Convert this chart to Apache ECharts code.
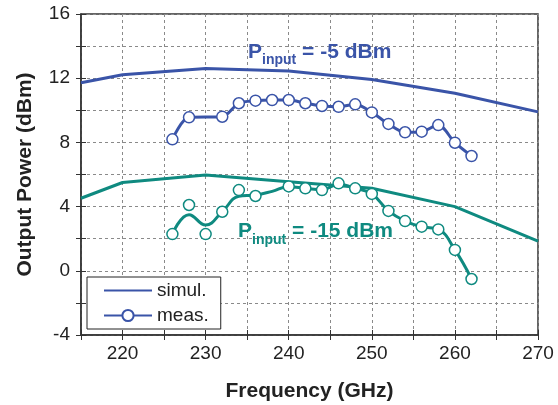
<!DOCTYPE html>
<html>
<head>
<meta charset="utf-8">
<script src="https://cdn.jsdelivr.net/npm/echarts@6/dist/echarts.min.js"></script>
<style>
  html, body { margin: 0; padding: 0; background: #fff; }
  #chart { width: 558px; height: 405px; }
</style>
</head>
<body>
<div id="chart"></div>
<script>
// Simulated output power (dBm) vs frequency (GHz)
const freqSim = [215, 220, 230, 240, 250, 260, 270];
const simHigh = [11.72, 12.22, 12.6, 12.45, 11.92, 11.06, 9.9];   // Pin = -5 dBm
const simLow  = [4.52, 5.5, 5.97, 5.55, 5.14, 4.0, 1.85];         // Pin = -15 dBm

// Measured output power (dBm); null where no point was taken
const freqMeas = [226, 228, 230, 232, 234, 236, 238, 240, 242, 244, 246, 248, 250, 252, 254, 256, 258, 260, 262];
const measHigh = [8.19, 9.56, null, 9.6, 10.44, 10.6, 10.64, 10.64, 10.44, 10.27, 10.22, 10.37, 9.87, 9.15, 8.63, 8.67, 9.08, 7.98, 7.15];
const measLow  = [2.29, 4.1, 2.29, 3.68, 5.03, 4.66, null, 5.26, 5.14, 5.03, 5.45, 5.14, 4.79, 3.73, 3.10, 2.75, 2.58, 1.30, -0.51];
// Smoothed trend drawn through the -15 dBm measurement
const trendLow = [2.29, 3.5, 2.85, 3.68, 4.65, 4.72, 4.95, 5.24, 5.14, 5.05, 5.4, 5.14, 4.79, 3.73, 3.10, 2.75, 2.58, 1.30, -0.51];

const xTicks = { min: 215, max: 270, step: 5, labelStep: 10 };
const yTicks = { min: -4, max: 16, step: 2, labelStep: 4 };

const BLUE = '#3a54a8';
const TEAL = '#0f8a80';
const AXIS = '#333333';

function pairs(xs, ys) {
  const out = [];
  xs.forEach((x, i) => { if (ys[i] !== null) out.push([x, ys[i]]); });
  return out;
}

const chart = echarts.init(document.getElementById('chart'), null, { renderer: 'canvas' });

const baseX = {
  type: 'value', min: xTicks.min, max: xTicks.max, interval: xTicks.step,
  gridIndex: 0
};
const baseY = {
  type: 'value', min: yTicks.min, max: yTicks.max, interval: yTicks.step,
  gridIndex: 0
};

const option = {
  animation: false,
  backgroundColor: '#ffffff',
  textStyle: { fontFamily: 'Liberation Sans, Arial, sans-serif' },
  grid: {
    left: 81, top: 14, right: 20, bottom: 70,
    containLabel: false, outerBoundsMode: 'none',
    show: true, borderColor: AXIS, borderWidth: 1.5, backgroundColor: 'transparent'
  },
  xAxis: [
    Object.assign({}, baseX, {
      position: 'bottom',
      name: 'Frequency (GHz)', nameLocation: 'middle', nameGap: 46,
      nameTextStyle: { fontSize: 21, fontWeight: 'bold', color: '#222' },
      axisLine: { show: true, onZero: false, lineStyle: { color: AXIS, width: 1.5 } },
      axisTick: { show: true, length: 5, lineStyle: { color: AXIS, width: 1 } },
      axisLabel: {
        margin: 9, fontSize: 19, color: '#222',
        formatter: v => (v % xTicks.labelStep === 0 ? String(v) : '')
      },
      splitLine: { show: true, lineStyle: { color: '#8a8a8a', width: 1, type: [3, 3] } }
    }),
    Object.assign({}, baseX, {
      position: 'bottom',
      axisLine: { show: false, onZero: false },
      axisTick: { show: true, inside: true, length: 5, lineStyle: { color: AXIS, width: 1 } },
      axisLabel: { show: false },
      splitLine: { show: false }
    })
  ],
  yAxis: [
    Object.assign({}, baseY, {
      position: 'left',
      name: 'Output Power (dBm)', nameLocation: 'middle', nameGap: 45,
      nameTextStyle: { fontSize: 21, fontWeight: 'bold', color: '#222' },
      axisLine: { show: true, onZero: false, lineStyle: { color: AXIS, width: 1.5 } },
      axisTick: { show: true, length: 5, lineStyle: { color: AXIS, width: 1 } },
      axisLabel: {
        margin: 11, fontSize: 19, color: '#222',
        formatter: v => (v % yTicks.labelStep === 0 ? String(v) : '')
      },
      splitLine: { show: true, lineStyle: { color: '#8a8a8a', width: 1, type: [3, 3] } }
    }),
    Object.assign({}, baseY, {
      position: 'left',
      axisLine: { show: false, onZero: false },
      axisTick: { show: true, inside: true, length: 5, lineStyle: { color: AXIS, width: 1 } },
      axisLabel: { show: false },
      splitLine: { show: false }
    })
  ],
  legend: {
    data: [
      { name: 'simul.', itemStyle: { opacity: 0 } },
      { name: 'meas.' }
    ],
    orient: 'vertical',
    left: 87, top: 277,
    width: 132,
    padding: [4, 12, 4, 16],
    itemGap: 6,
    itemWidth: 48, itemHeight: 14,
    borderColor: '#222', borderWidth: 1, borderRadius: 0,
    backgroundColor: '#ffffff',
    textStyle: { fontSize: 19, color: '#222', padding: [0, 0, 0, 0] },
    selectedMode: false
  },
  series: [
    {
      name: 'simul.', type: 'line', data: pairs(freqSim, simHigh),
      showSymbol: false, symbol: 'none',
      lineStyle: { color: BLUE, width: 3 }, itemStyle: { color: BLUE }, z: 3
    },
    {
      name: 'simul. -15', type: 'line', data: pairs(freqSim, simLow),
      showSymbol: false, symbol: 'none',
      lineStyle: { color: TEAL, width: 3 }, itemStyle: { color: TEAL }, z: 3
    },
    {
      name: 'meas.', type: 'line', data: pairs(freqMeas, measHigh),
      smooth: 0.3,
      symbol: 'circle', symbolSize: 11, showSymbol: true,
      lineStyle: { color: BLUE, width: 3 },
      itemStyle: { color: '#ffffff', borderColor: BLUE, borderWidth: 1.5 }, z: 4
    },
    {
      name: 'meas. -15 trend', type: 'line', data: pairs(freqMeas, trendLow),
      smooth: 0.45, showSymbol: false, symbol: 'none',
      lineStyle: { color: TEAL, width: 3 }, itemStyle: { color: TEAL }, z: 4
    },
    {
      name: 'meas. -15', type: 'scatter', data: pairs(freqMeas, measLow),
      symbol: 'circle', symbolSize: 11,
      itemStyle: { color: '#ffffff', borderColor: TEAL, borderWidth: 1.5, opacity: 1 }, z: 5
    }
  ]
};

chart.setOption(option);

// Input-power annotations, anchored in data coordinates
function pinLabel(freq, level, color, text) {
  const p = chart.convertToPixel({ gridIndex: 0 }, [freq, level]);
  return {
    type: 'text', x: p[0], y: p[1], z: 10,
    style: {
      text: '{big|P}{sub|input}{big| = ' + text + '}',
      rich: {
        big: { fontSize: 21, fontWeight: 'bold', fill: color, lineHeight: 22, verticalAlign: 'top', fontFamily: 'Liberation Sans, Arial, sans-serif' },
        sub: { fontSize: 14, fontWeight: 'bold', fill: color, lineHeight: 14, padding: [12, 0, 0, 0], verticalAlign: 'top', fontFamily: 'Liberation Sans, Arial, sans-serif' }
      }
    }
  };
}

chart.setOption({
  graphic: [
    pinLabel(235.1, 14.3, BLUE, '-5 dBm'),
    pinLabel(233.9, 3.1, TEAL, '-15 dBm')
  ]
});
</script>
</body>
</html>
